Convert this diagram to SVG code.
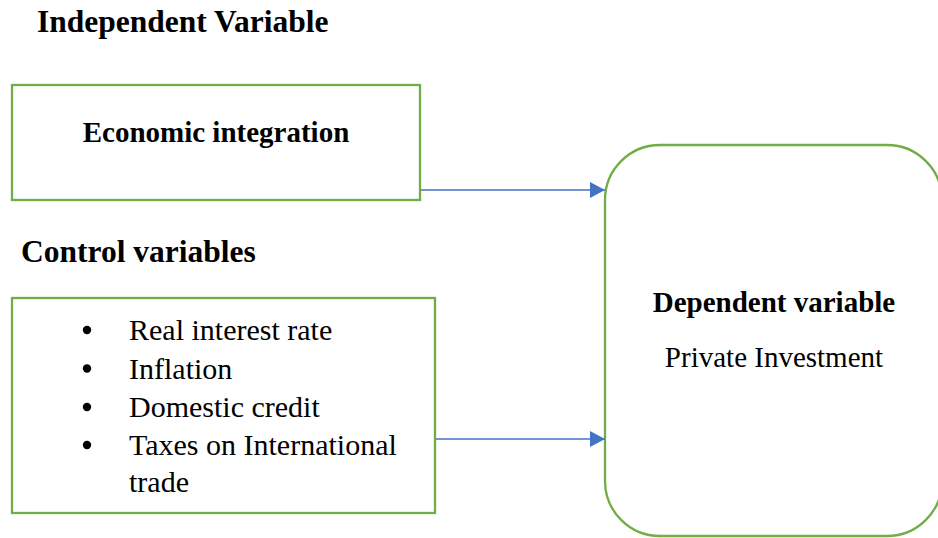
<svg xmlns="http://www.w3.org/2000/svg" width="938" height="538" viewBox="0 0 938 538">
<style>
.box{fill:#fff;stroke:#70AD47;stroke-width:2.3}
.conn{stroke:#4472C4;stroke-width:1.3;fill:none}
text{font-family:'Liberation Serif','DejaVu Serif',serif;fill:#000}
.title{font-size:31.5px;font-weight:bold}
.b{font-size:29px;font-weight:bold}
.r{font-size:29px}
.li{font-size:30px}
</style>
<defs>
<marker id="arr" markerUnits="userSpaceOnUse" markerWidth="15" markerHeight="16" refX="15" refY="8" orient="auto">
<path d="M0,0 L15,8 L0,16 Z" fill="#4472C4"/>
</marker>
</defs>
<g font-family="Liberation Serif, DejaVu Serif, serif">
<text class="title" x="37" y="32">Independent Variable</text>
<text class="title" x="21" y="262">Control variables</text>
<g id="economic-integration">
<rect class="box" x="12" y="85" width="408" height="115"/>
<text class="b" x="216" y="142" text-anchor="middle">Economic integration</text>
</g>
<g id="control-variables">
<rect class="box" x="12" y="298" width="423" height="215"/>
<g fill="#000">
<circle cx="87" cy="330" r="4.2"/>
<circle cx="87" cy="368.5" r="4.2"/>
<circle cx="87" cy="407" r="4.2"/>
<circle cx="87" cy="445" r="4.2"/>
</g>
<text class="li" x="129" y="340">Real interest rate</text>
<text class="li" x="129" y="378.5">Inflation</text>
<text class="li" x="129" y="417">Domestic credit</text>
<text class="li" x="129" y="455">Taxes on International</text>
<text class="li" x="129" y="492">trade</text>
</g>
<g id="dependent-variable">
<rect class="box" x="605" y="145" width="337" height="391" rx="55" ry="55"/>
<text class="b" x="774" y="312" text-anchor="middle">Dependent variable</text>
<text class="r" x="774" y="367" text-anchor="middle">Private Investment</text>
</g>
</g>
<g id="connectors">
<line class="conn" x1="421" y1="190" x2="605" y2="190" marker-end="url(#arr)"/>
<line class="conn" x1="436" y1="439" x2="605" y2="439" marker-end="url(#arr)"/>
</g>
</svg>
